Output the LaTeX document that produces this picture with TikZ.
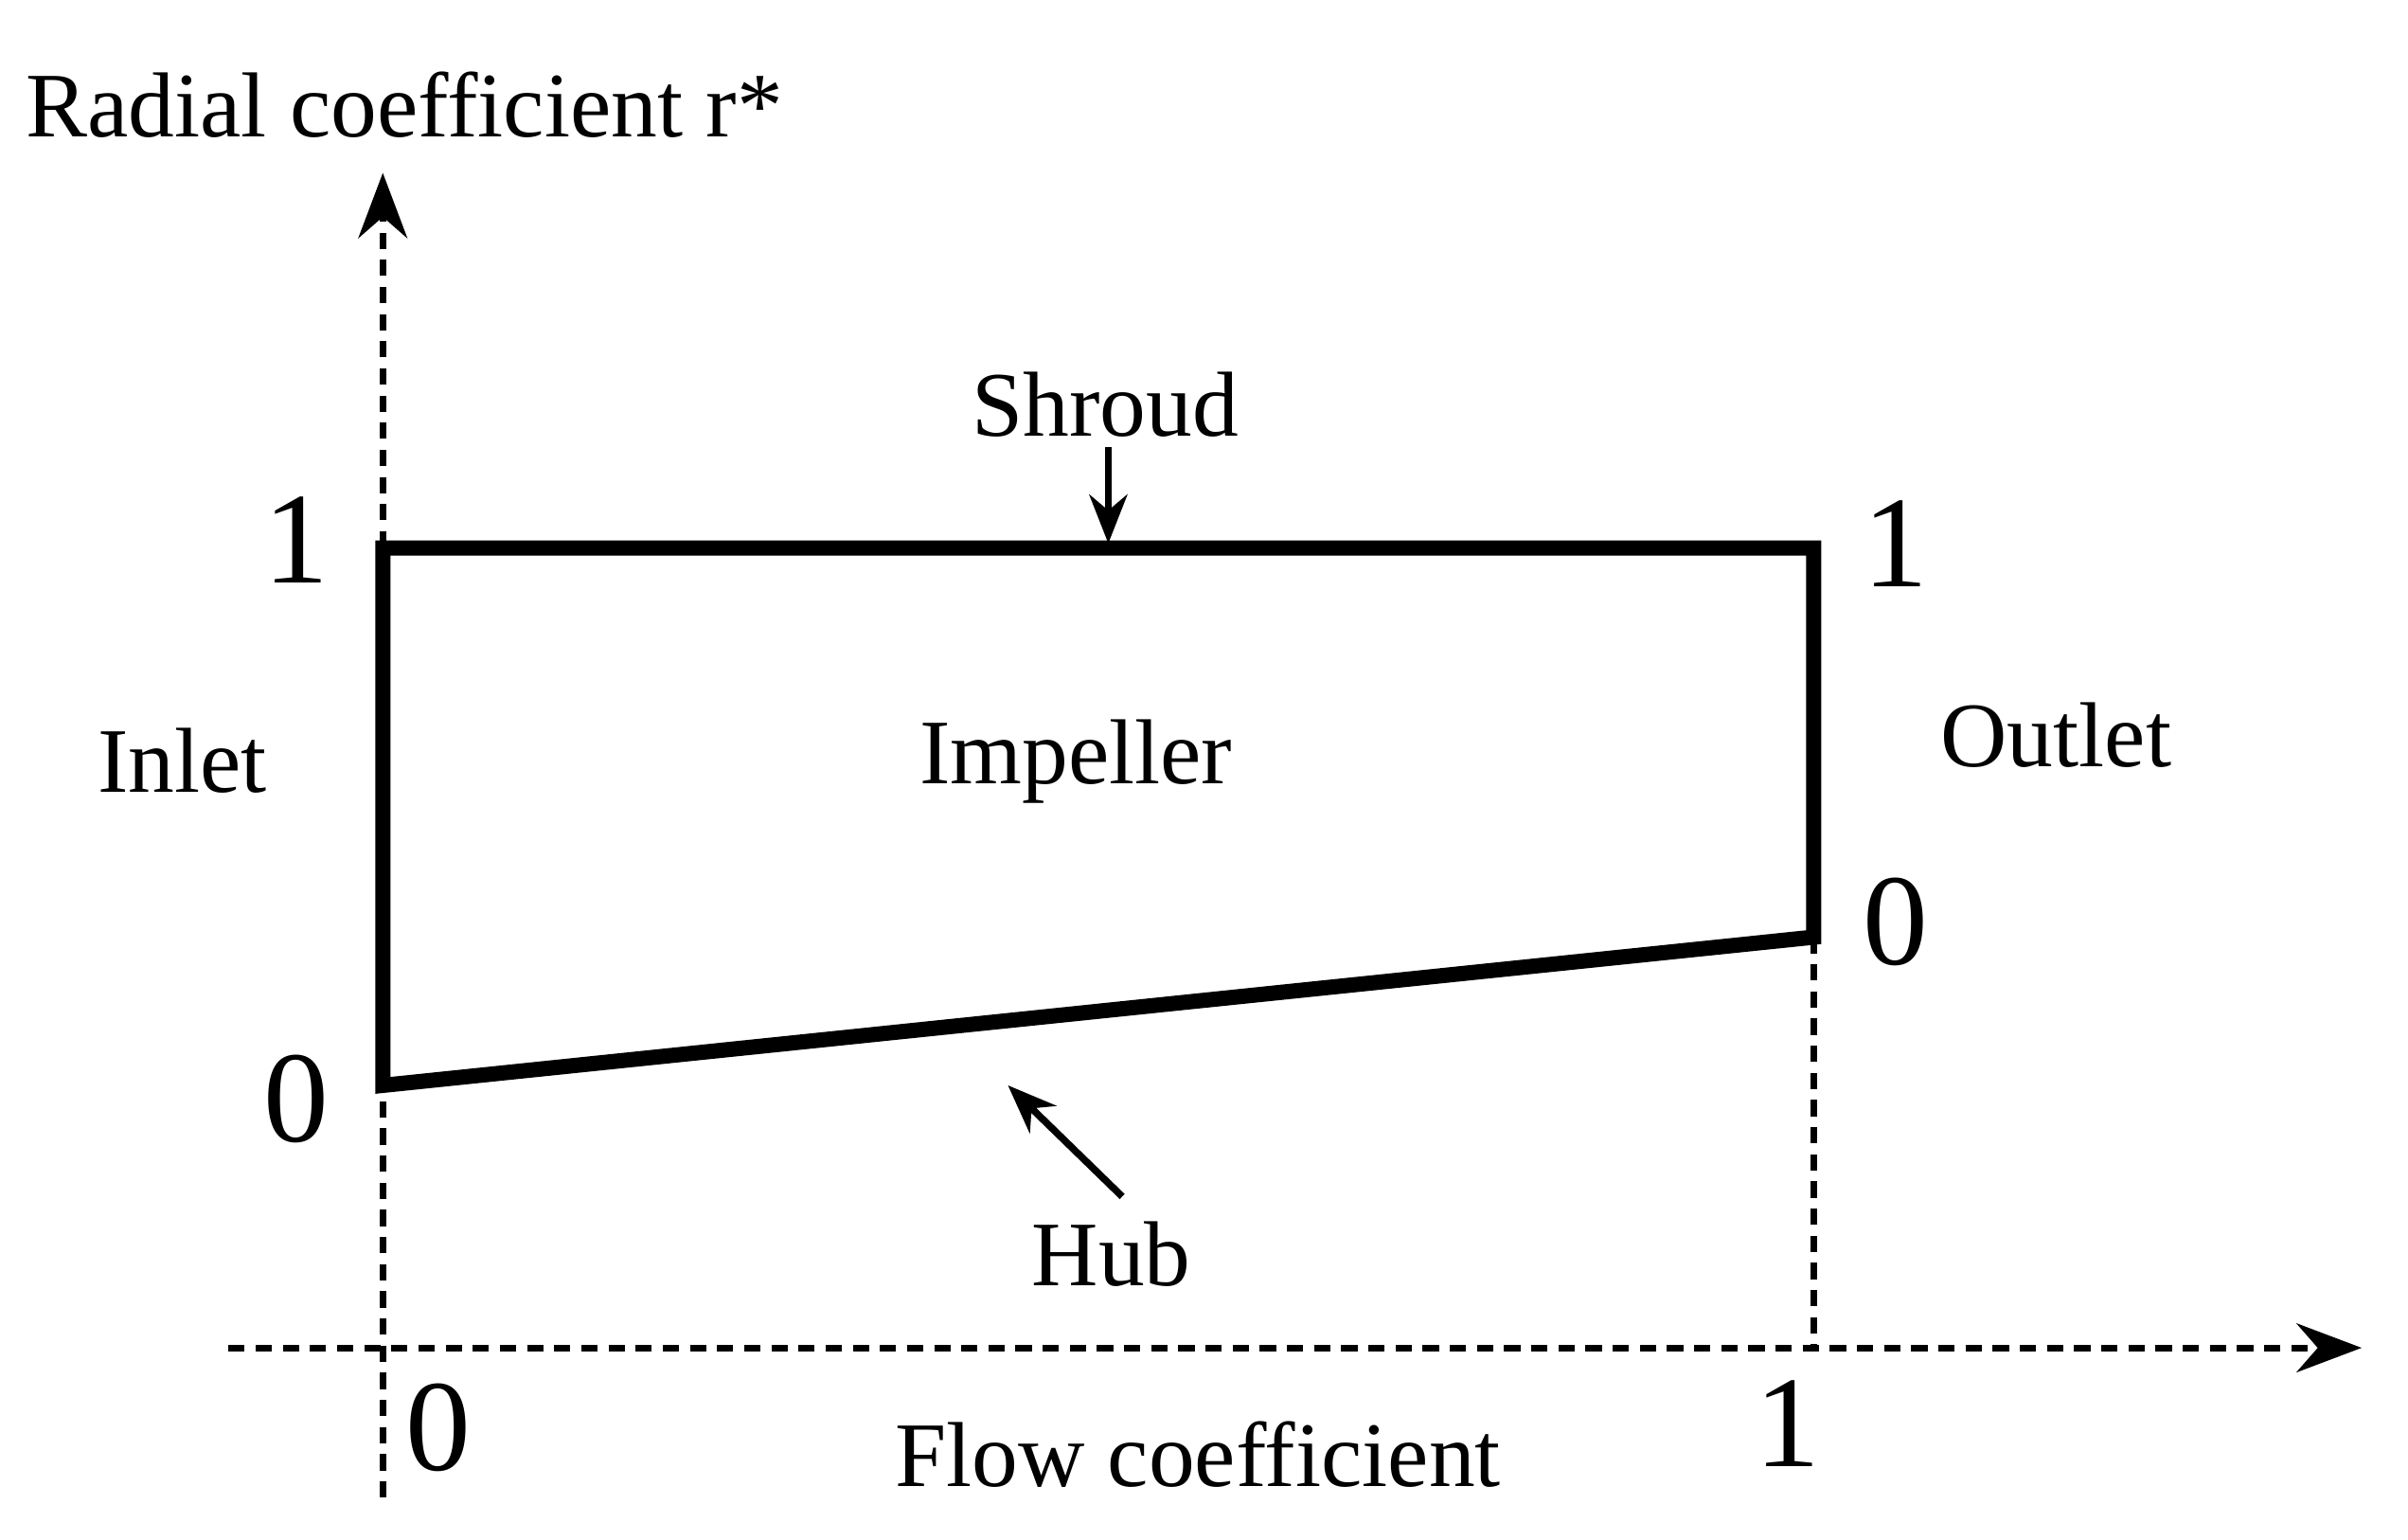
\documentclass[tikz,border=0pt]{standalone}
\usepackage{fontspec}
\setmainfont{Liberation Serif}
\usetikzlibrary{arrows.meta}
\begin{document}
\begin{tikzpicture}[x=0.01cm,y=-0.01cm,
  lbl/.style={font=\fontsize{17}{20}\selectfont, inner sep=0},
  num/.style={font=\fontsize{24}{28}\selectfont, inner sep=0},
  ax/.style={densely dashed, line width=1.2pt},
  box/.style={line width=2.8pt, line join=miter},
  arr/.style={line width=1.3pt,-{Stealth[length=9pt,width=7pt]}}]
\useasboundingbox (0,0) rectangle (1560,997);
\coordinate (vb) at (248,970); \coordinate (vt) at (248,112);
\coordinate (hl) at (148,873); \coordinate (hr) at (1530,873);
\draw[ax,-{Stealth[length=12pt,width=9pt]}] (vb) -- (vt);
\draw[ax,-{Stealth[length=12pt,width=9pt]}] (hl) -- (hr);
\coordinate (tl) at (248,355); \coordinate (tr) at (1175,355);
\coordinate (br) at (1175,607); \coordinate (bl) at (248,703);
\coordinate (bx) at (1175,873);
\draw[ax] (br) -- (bx);
\draw[box] (bl) -- (tl) -- (tr) -- (br) -- cycle;
\node[lbl] (shroud) at (716,262) {Shroud};
\coordinate (sh) at (718,352);
\draw[arr] (shroud.south -| sh) ++(0,6) -- (sh);
\node[lbl] (hub) at (720,812) {Hub};
\coordinate (hs) at (727,775); \coordinate (he) at (653,703);
\draw[arr] (hs) -- (he);
\node[num] (a1) at (192,350) {1};
\node[num] (a0) at (192,712) {0};
\node[num] (b1) at (1228,352) {1};
\node[num] (b0) at (1228,597) {0};
\node[num] (x0) at (284,925) {0};
\node[num] (x1) at (1158,922) {1};
\node[lbl] (inlet) at (118,493) {Inlet};
\node[lbl] (imp) at (697,493) {Impeller};
\node[lbl] (outlet) at (1332,476) {Outlet};
\node[lbl] (flow) at (776,942) {Flow coefficient};
\node[lbl] (rad) at (262,68) {Radial coefficient r*};
\end{tikzpicture}
\end{document}
